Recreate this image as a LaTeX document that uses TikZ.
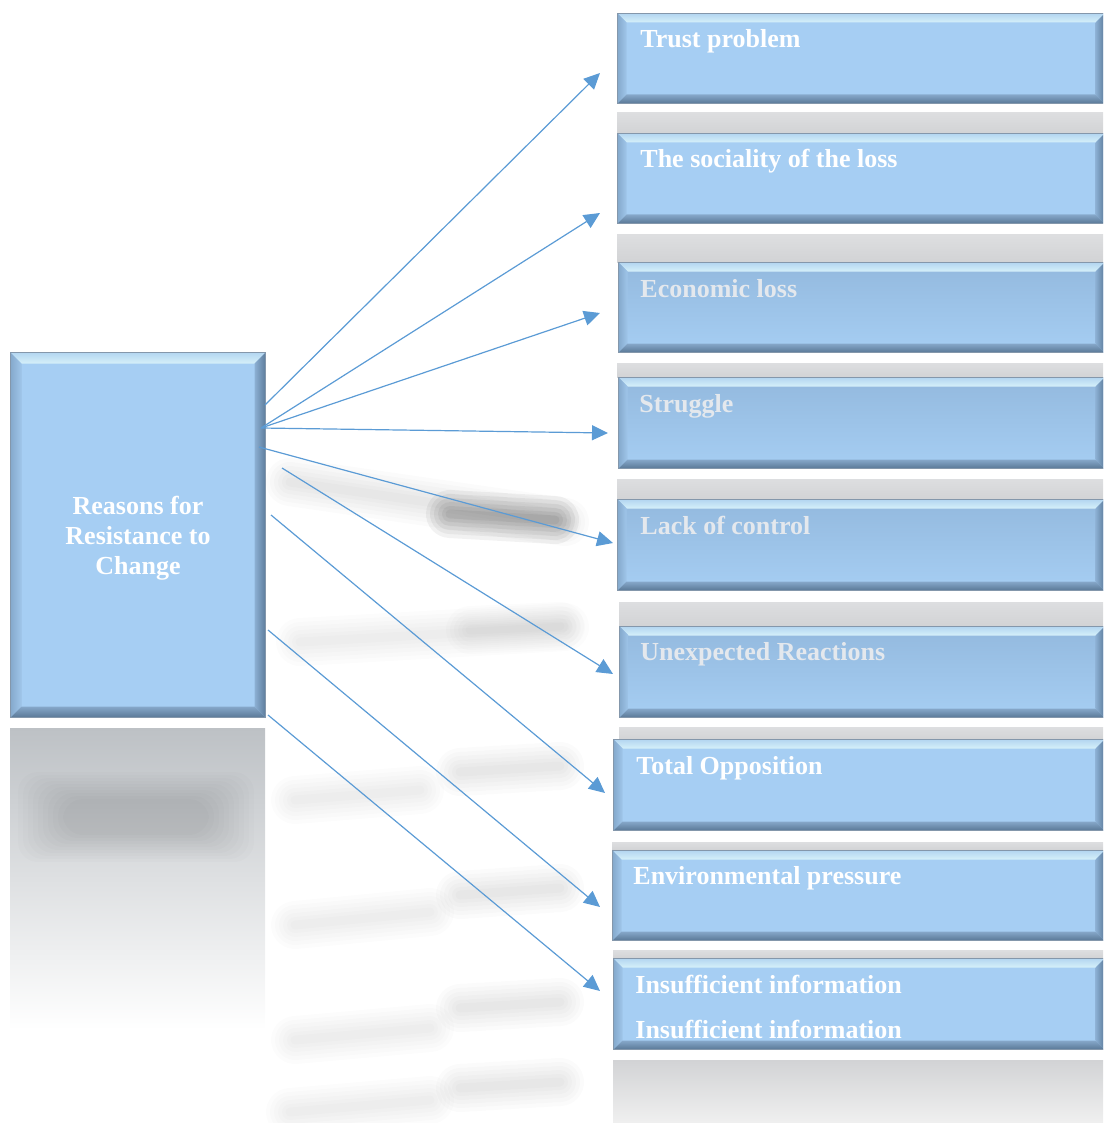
\documentclass[tikz,border=0pt]{standalone}
\usepackage{fontspec}
\setmainfont{Liberation Serif}
\usetikzlibrary{arrows.meta,calc}
\definecolor{boxfill}{HTML}{A6CEF3}
\definecolor{boxdim}{HTML}{93B9DE}
\definecolor{bordc}{HTML}{8497AB}
\definecolor{bevTa}{HTML}{B3D6F1}
\definecolor{bevTb}{HTML}{D6F0F9}
\definecolor{bevLa}{HTML}{85A9CC}
\definecolor{bevLb}{HTML}{A0C6EA}
\definecolor{bevRa}{HTML}{8CB0D4}
\definecolor{bevRb}{HTML}{5E7D9C}
\definecolor{bevBa}{HTML}{86A8CA}
\definecolor{bevBb}{HTML}{5A7896}
\definecolor{arrowc}{HTML}{5B9BD5}
\definecolor{stripa}{HTML}{DDDEE0}
\definecolor{stripb}{HTML}{D2D3D5}
\definecolor{refla}{HTML}{BDC1C5}
\definecolor{txtdim}{HTML}{E4E8ED}
\newcommand\streakline[3]{%
  \foreach \w in {48,40,32,24,16,9}{%
    \draw[line width=\w*0.5pt, black, opacity=#3, line cap=round] #1 -- #2;}}
\begin{document}
\begin{tikzpicture}[x=0.5pt,y=-0.5pt,
  bevel/.style={path picture={
    \path (path picture bounding box.north west) coordinate (pnw)
          (path picture bounding box.north east) coordinate (pne)
          (path picture bounding box.south west) coordinate (psw)
          (path picture bounding box.south east) coordinate (pse);
    \shade[top color=bevTa, bottom color=bevTb] (pnw) -- (pne) -- ([xshift=-#1,yshift=-#1]pne) -- ([xshift=#1,yshift=-#1]pnw) -- cycle;
    \shade[left color=bevLa, right color=bevLb] (pnw) -- ([xshift=#1,yshift=-#1]pnw) -- ([xshift=#1,yshift=#1]psw) -- (psw) -- cycle;
    \shade[left color=bevRa, right color=bevRb] (pne) -- ([xshift=-#1,yshift=-#1]pne) -- ([xshift=-#1,yshift=#1]pse) -- (pse) -- cycle;
    \shade[top color=bevBa, bottom color=bevBb] (psw) -- ([xshift=#1,yshift=#1]psw) -- ([xshift=-#1,yshift=#1]pse) -- (pse) -- cycle;
  }},
  rbox/.style={draw=bordc, line width=0.5pt, fill=boxfill, inner sep=0pt, bevel=4.5pt},
  dimbox/.style={top color=boxdim, middle color=boxdim, bottom color=boxfill},
  lbl/.style={text=white, font=\fontsize{13pt}{15pt}\selectfont\bfseries, inner sep=0pt, anchor=base west},
  dimlbl/.style={text=txtdim},
  strip/.style={top color=stripa, bottom color=stripb},
  conn/.style={draw=arrowc, line width=0.6pt, -{Triangle[length=8pt,width=7.5pt]}}
]
\useasboundingbox (0,0) rectangle (1103,1123);
\clip (0,0) rectangle (1103,1123);

% shadow streaks
\streakline{(290,482)}{(565,522)}{0.014}
\streakline{(450,514)}{(555,520)}{0.05}
\streakline{(300,642)}{(565,627)}{0.012}
\streakline{(470,630)}{(560,626)}{0.012}
\streakline{(295,800)}{(420,790)}{0.012}
\streakline{(460,772)}{(560,766)}{0.014}
\streakline{(295,925)}{(430,912)}{0.012}
\streakline{(460,895)}{(560,888)}{0.014}
\streakline{(295,1040)}{(430,1028)}{0.012}
\streakline{(460,1008)}{(560,1002)}{0.014}
\streakline{(290,1112)}{(430,1100)}{0.012}
\streakline{(460,1088)}{(560,1082)}{0.014}

% reflection of left box
\shade[top color=refla, bottom color=white] (10,728) rectangle (265,1030);
\foreach \i in {0,...,9}{
  \fill[black, opacity=0.012, rounded corners=10pt] (18+\i*5,772+\i*3) rectangle (254-\i*5,862-\i*3);}

% reflection strips above boxes
\shade[strip] (617,113) rectangle (1103,133);
\shade[strip] (617,235) rectangle (1103,262);
\shade[strip] (617,363) rectangle (1103,377);
\shade[strip] (617,479) rectangle (1103,499);
\shade[strip] (619,602) rectangle (1103,626);
\shade[strip] (619,727) rectangle (1103,739);
\shade[strip] (612,842) rectangle (1103,850);
\shade[strip] (613,950) rectangle (1103,958);
\shade[top color=stripb, bottom color=white!94!black] (613,1060) rectangle (1103,1123);

% left box
\node[rbox, bevel=5.5pt, anchor=north west, minimum width={(265-10)*0.5pt}, minimum height={(717-352)*0.5pt}] (L) at (10,352) {};
\node[text=white, font=\fontsize{13pt}{15pt}\selectfont\bfseries, align=center, inner sep=0pt] (LT) at (138,538) {Reasons for\\Resistance to\\Change};

% right boxes
\newcommand\rbx[5]{\node[rbox,#5,anchor=north west,minimum width={(1104-#2)*0.5pt},minimum height={(#4-#3)*0.5pt}] (#1) at (#2,#3) {};}
\rbx{b1}{617}{13}{103}{}
\rbx{b2}{617}{133}{223}{}
\rbx{b3}{618}{262}{352}{dimbox}
\rbx{b4}{618}{377}{468}{dimbox}
\rbx{b5}{617}{499}{590}{dimbox}
\rbx{b6}{619}{626}{717}{dimbox}
\rbx{b7}{613}{739}{830}{}
\rbx{b8}{612}{850}{940}{}
\rbx{b9}{613}{958}{1049}{}

\node[lbl] (t1) at (640,48) {Trust problem};
\node[lbl] (t2) at (640,168) {The sociality of the loss};
\node[lbl,dimlbl] (t3) at (640,297) {Economic loss};
\node[lbl,dimlbl] (t4) at (639,412) {Struggle};
\node[lbl,dimlbl] (t5) at (640,534) {Lack of control};
\node[lbl,dimlbl] (t6) at (640,660) {Unexpected Reactions};
\node[lbl] (t7) at (636,774) {Total Opposition};
\node[lbl] (t8) at (633,884) {Environmental pressure};
\node[lbl] (t9) at (635,993) {Insufficient information};
\node[lbl] (t9b) at (635,1038) {Insufficient information};

% connector end points
\coordinate (s1) at (265,405);
\coordinate (s2) at (261,428);
\coordinate (s5) at (259,447);
\coordinate (s6) at (282,468);
\coordinate (s7) at (271,515);
\coordinate (s8) at (268,630);
\coordinate (s9) at (268,715);
\coordinate (e1) at (600,73);
\coordinate (e2) at (600,213);
\coordinate (e3) at (600,313);
\coordinate (e4) at (608,433);
\coordinate (e5) at (613,543);
\coordinate (e6) at (613,674);
\coordinate (e7) at (605,793);
\coordinate (e8) at (600,907);
\coordinate (e9) at (600,991);

\draw[conn] (s1) -- (e1);
\draw[conn] (s2) -- (e2);
\draw[conn] (s2) -- (e3);
\draw[conn] (s2) -- (e4);
\draw[conn] (s5) -- (e5);
\draw[conn] (s6) -- (e6);
\draw[conn] (s7) -- (e7);
\draw[conn] (s8) -- (e8);
\draw[conn] (s9) -- (e9);
\end{tikzpicture}
\end{document}
